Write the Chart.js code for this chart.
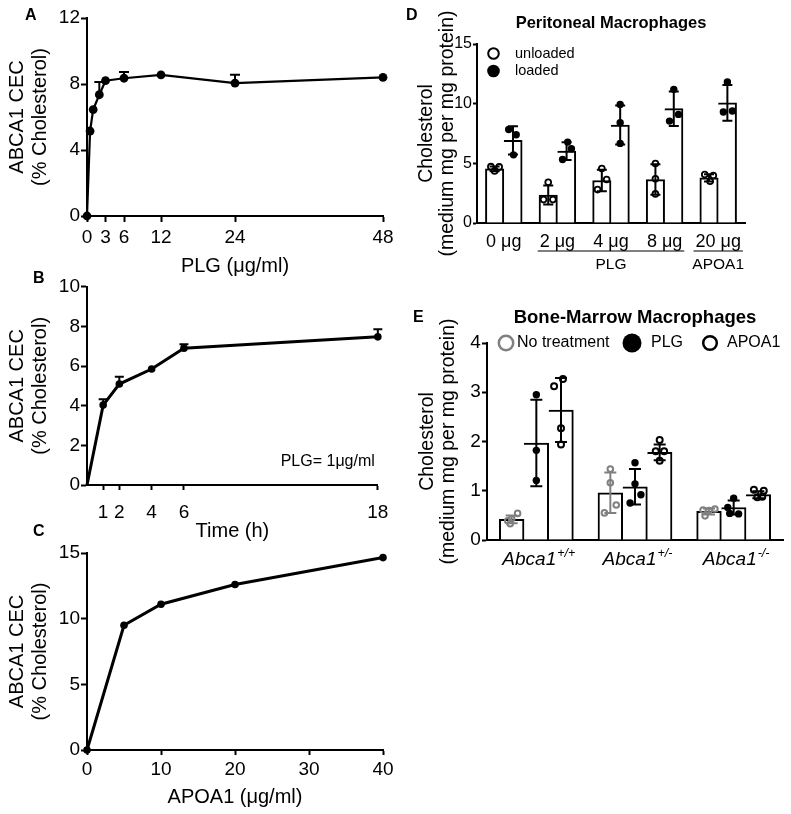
<!DOCTYPE html>
<html lang="en">
<head>
<meta charset="UTF-8">
<title>ABCA1 CEC and cholesterol efflux</title>
<script src="https://cdn.jsdelivr.net/npm/chart.js"></script>
<style>
  body { margin: 0; background: #fff; }
  #fig { position: relative; width: 791px; height: 814px; font-family: "Liberation Sans", Arial, sans-serif; }
  #fig canvas { position: absolute; }
  .lbl { position: absolute; font-weight: bold; font-size: 16px; line-height: 16px; }
</style>
</head>
<body>
<div id="fig">
  <canvas id="chartA" width="400" height="280" style="left:0;top:0"></canvas>
  <canvas id="chartB" width="400" height="278" style="left:0;top:270px"></canvas>
  <canvas id="chartC" width="400" height="274" style="left:0;top:540px"></canvas>
  <canvas id="chartD" width="391" height="295" style="left:400px;top:0"></canvas>
  <canvas id="chartE" width="391" height="285" style="left:400px;top:300px"></canvas>
  <div class="lbl" style="left:25px;top:7px">A</div>
  <div class="lbl" style="left:33px;top:270px">B</div>
  <div class="lbl" style="left:33px;top:523px">C</div>
  <div class="lbl" style="left:406px;top:7px">D</div>
  <div class="lbl" style="left:413px;top:309px">E</div>
</div>
<script>
// A: CEC vs PLG dose
const doseA = [0, 0.5, 1, 2, 3, 6, 12, 24, 48];
const cecA = [0, 5.15, 6.45, 7.35, 8.2, 8.35, 8.55, 8.05, 8.4];
const errA = [0, 0, 0, 0.77, 0, 0.37, 0, 0.51, 0];
const ticksA = [0, 3, 6, 12, 24, 48];

// B: CEC vs time
const timeB = [0, 1, 2, 4, 6, 18];
const cecB = [0, 4.03, 5.09, 5.85, 6.9, 7.47];
const errB = [0, 0.3, 0.37, 0, 0.2, 0.38];
const ticksB = [1, 2, 4, 6, 18];

// C: CEC vs APOA1
const apoC = [0, 5, 10, 20, 40];
const cecC = [0, 9.5, 11.1, 12.6, 14.65];

// D: peritoneal macrophages
const doseD = ['0 μg', '2 μg', '4 μg', '8 μg', '20 μg'];
const seriesD = ['unloaded', 'loaded'];
const unloadedMean = [4.54, 2.35, 3.56, 3.64, 3.78];
const unloadedSD = [0.2, 0.8, 0.9, 1.28, 0.3];
const loadedMean = [6.92, 6.02, 8.21, 9.58, 10.06];
const loadedSD = [1.18, 0.74, 1.64, 1.45, 1.5];
const unloadedPts = [[4.72, 4.36, 4.7], [3.42, 1.96, 1.96], [4.57, 3.64, 2.8], [4.99, 3.7, 2.44], [4.06, 3.98, 3.5]];
const unloadedJit = [[-0.07, 0, 0.085], [0, -0.087, 0.087], [0, 0.09, -0.08], [0, 0, 0], [-0.08, 0.08, 0.02]];
const loadedPts = [[7.84, 7.39, 5.71], [6.78, 6.22, 5.32], [9.94, 8.4, 6.67], [11.2, 8.54, 9.1], [11.82, 9.3, 9.38]];
const loadedJit = [[-0.08, 0.06, 0.01], [0.02, 0.09, -0.075], [0, 0, 0], [0, -0.08, 0.087], [0, -0.075, 0.093]];
const groupLabelsD = ['PLG', 'APOA1'];
const groupFromD = [1, 4];
const groupToD = [3, 4];

// E: bone-marrow macrophages
const geneE = 'Abca1';
const genotypeE = ['+/+', '+/-', '-/-'];
const seriesE = ['No treatment', 'PLG', 'APOA1'];
const ntMean = [0.42, 0.96, 0.58];
const ntSD = [0.08, 0.41, 0.06];
const plgMean = [1.97, 1.08, 0.66];
const plgSD = [0.88, 0.36, 0.14];
const apoMean = [2.64, 1.78, 0.92];
const apoSD = [0.65, 0.16, 0.07];
const ntPts = [[0.39, 0.43, 0.54, 0.33], [1.44, 1.16, 0.71, 0.55], [0.61, 0.6, 0.63, 0.49]];
const ntJit = [[-0.04, 0, 0.06, -0.015], [0, 0, 0.06, -0.06], [-0.06, 0, 0.06, -0.04]];
const plgPts = [[2.95, 1.82, 1.21], [1.57, 1.14, 0.92, 0.75], [0.85, 0.66, 0.54, 0.53]];
const plgJit = [[0, 0, 0], [0, 0, 0.06, -0.05], [0, -0.06, -0.04, 0.05]];
const apoPts = [[3.27, 3.12, 2.27, 1.94], [2.03, 1.8, 1.8, 1.61], [1.02, 1.0, 0.87, 0.88]];
const apoJit = [[0.02, -0.07, 0, 0], [0, -0.04, 0.045, 0], [-0.045, 0.055, -0.01, 0.04]];

const FONT = '"Liberation Sans", Arial, sans-serif';
Chart.defaults.font.family = FONT;
Chart.defaults.color = '#000';
Chart.defaults.animation = false;
Chart.defaults.responsive = false;
Chart.defaults.events = [];
Chart.defaults.plugins.legend.display = false;
Chart.defaults.plugins.tooltip.enabled = false;

function yAxis(o) {
  return {
    min: 0, max: o.max,
    afterFit: s => { s.width = o.width; },
    border: { color: '#000', width: 2 },
    grid: { drawOnChartArea: false, tickLength: o.tickLen, tickWidth: 2, tickColor: '#000' },
    ticks: { stepSize: o.step, padding: o.pad, font: { size: o.size } },
    title: { display: true, text: o.title, font: { size: o.titleSize, lineHeight: o.titleLH }, padding: { top: o.titlePad, bottom: 0 } }
  };
}

function lineX(o) {
  return {
    type: 'linear', min: o.min, max: o.max,
    afterBuildTicks: s => { s.ticks = o.ticks.map(v => ({ value: v })); },
    afterFit: s => { s.height = o.height; },
    border: { color: '#000', width: 2 },
    grid: { drawOnChartArea: false, tickLength: o.tickLen, tickWidth: 2, tickColor: '#000' },
    ticks: { font: { size: 19 }, padding: o.pad, autoSkip: false, maxRotation: 0 },
    title: { display: true, text: o.title, font: { size: 20 }, padding: { top: 0, bottom: o.titlePad } }
  };
}

function upErrors(xs, ys, errs, cap) {
  return {
    id: 'upErrors',
    afterDatasetsDraw(chart) {
      const { ctx, scales: { x, y } } = chart;
      ctx.save();
      ctx.strokeStyle = '#000';
      ctx.lineWidth = 2;
      errs.forEach((e, i) => {
        if (!e) return;
        const px = x.getPixelForValue(xs[i]);
        const y0 = y.getPixelForValue(ys[i]);
        const y1 = y.getPixelForValue(ys[i] + e);
        ctx.beginPath();
        ctx.moveTo(px, y0); ctx.lineTo(px, y1);
        ctx.moveTo(px - cap, y1); ctx.lineTo(px + cap, y1);
        ctx.stroke();
      });
      ctx.restore();
    }
  };
}

function sdErrors(sets, cap) {
  return {
    id: 'sdErrors',
    afterDatasetsDraw(chart) {
      const { ctx } = chart;
      const y = chart.scales.y;
      ctx.save();
      ctx.lineWidth = 2;
      sets.forEach(s => {
        ctx.strokeStyle = s.color;
        chart.getDatasetMeta(s.index).data.forEach((bar, i) => {
          const top = y.getPixelForValue(s.mean[i] + s.sd[i]);
          const bot = y.getPixelForValue(Math.max(0, s.mean[i] - s.sd[i]));
          ctx.beginPath();
          ctx.moveTo(bar.x, top); ctx.lineTo(bar.x, bot);
          ctx.moveTo(bar.x - cap, top); ctx.lineTo(bar.x + cap, top);
          ctx.moveTo(bar.x - cap, bot); ctx.lineTo(bar.x + cap, bot);
          ctx.stroke();
        });
      });
      ctx.restore();
    }
  };
}

function markerLegend(labels, items, size) {
  return {
    id: 'markerLegend',
    afterDraw(chart) {
      const { ctx, chartArea } = chart;
      ctx.save();
      ctx.font = size + 'px ' + FONT;
      ctx.textBaseline = 'middle';
      ctx.textAlign = 'left';
      items.forEach((it, i) => {
        const cx = chartArea.left + it.dx, cy = chartArea.top + it.dy;
        ctx.beginPath();
        ctx.arc(cx, cy, it.r, 0, Math.PI * 2);
        if (it.fill) { ctx.fillStyle = it.fill; ctx.fill(); }
        if (it.stroke) { ctx.strokeStyle = it.stroke; ctx.lineWidth = it.lw; ctx.stroke(); }
        ctx.fillStyle = '#000';
        ctx.fillText(labels[i], chartArea.left + it.tx, cy);
      });
      ctx.restore();
    }
  };
}

// bars and dots share a hidden linear axis: category index + bar slot offset (+ jitter)
function slotOffset(k, nBars, catPct) {
  return (k - (nBars - 1) / 2) * catPct / nBars;
}
function barData(means, k, nBars, catPct) {
  const off = slotOffset(k, nBars, catPct);
  return means.map((m, i) => ({ x: i + off, y: m }));
}
function pointData(pts, jit, k, nBars, catPct) {
  const off = slotOffset(k, nBars, catPct);
  return pts.flatMap((vals, i) => vals.map((v, j) => ({ x: i + off + jit[i][j], y: v })));
}

// ---------- A ----------
new Chart(document.getElementById('chartA'), {
  type: 'scatter',
  data: {
    datasets: [{
      data: doseA.map((x, i) => ({ x, y: cecA[i] })),
      showLine: true, borderColor: '#000', borderWidth: 2.2,
      pointRadius: 4.4, pointBackgroundColor: '#000', pointBorderWidth: 0, clip: false
    }]
  },
  options: {
    layout: { padding: { top: 18, right: 17, left: 0, bottom: 0 } },
    scales: {
      x: lineX({ min: 0, max: 48, ticks: ticksA, tickLen: 6, pad: 4.6, title: 'PLG (μg/ml)', titlePad: 1.3, height: 64 }),
      y: yAxis({ max: 12, step: 4, width: 87, tickLen: 6, pad: 1, size: 19,
        title: ['ABCA1 CEC', '(% Cholesterol)'], titleSize: 20, titleLH: 1.17, titlePad: 5.8 })
    }
  },
  plugins: [upErrors(doseA, cecA, errA, 5)]
});

// ---------- B ----------
new Chart(document.getElementById('chartB'), {
  type: 'scatter',
  data: {
    datasets: [{
      data: timeB.map((x, i) => ({ x, y: cecB[i] })),
      showLine: true, borderColor: '#000', borderWidth: 3,
      pointRadius: c => (c.dataIndex === 0 ? 0 : 3.8), pointBackgroundColor: '#000', pointBorderWidth: 0, clip: false
    }]
  },
  options: {
    layout: { padding: { top: 16.7, right: 17, left: 0, bottom: 0 } },
    scales: {
      x: lineX({ min: 0, max: 18, ticks: ticksB, tickLen: 5, pad: 11.6, title: 'Time (h)', titlePad: 5, height: 63 }),
      y: yAxis({ max: 10, step: 2, width: 87, tickLen: 6, pad: 1, size: 19,
        title: ['ABCA1 CEC', '(% Cholesterol)'], titleSize: 20, titleLH: 1.17, titlePad: 5.8 })
    }
  },
  plugins: [upErrors(timeB, cecB, errB, 4.5), {
    id: 'note',
    afterDraw(chart) {
      const { ctx, chartArea } = chart;
      ctx.save();
      ctx.font = '16px ' + FONT;
      ctx.fillStyle = '#000';
      ctx.textAlign = 'right';
      ctx.textBaseline = 'middle';
      ctx.fillText('PLG= 1μg/ml', chartArea.right - 3, chartArea.bottom - 23);
      ctx.restore();
    }
  }]
});

// ---------- C ----------
new Chart(document.getElementById('chartC'), {
  type: 'scatter',
  data: {
    datasets: [{
      data: apoC.map((x, i) => ({ x, y: cecC[i] })),
      showLine: true, borderColor: '#000', borderWidth: 3,
      pointRadius: 3.8, pointBackgroundColor: '#000', pointBorderWidth: 0, clip: false
    }]
  },
  options: {
    layout: { padding: { top: 13, right: 17, left: 0, bottom: 0 } },
    scales: {
      x: lineX({ min: 0, max: 40, ticks: [0, 10, 20, 30, 40], tickLen: 5, pad: 3.6, title: 'APOA1 (μg/ml)', titlePad: 5, height: 64 }),
      y: yAxis({ max: 15, step: 5, width: 87, tickLen: 6, pad: 1, size: 19,
        title: ['ABCA1 CEC', '(% Cholesterol)'], titleSize: 20, titleLH: 1.17, titlePad: 5.8 })
    }
  }
});

// ---------- D ----------
const catD = 0.685;
const barD = (label, data, left) => ({
  label, data, xAxisID: 'xp', order: 1, grouped: false, barThickness: 18.4,
  backgroundColor: '#fff', borderColor: '#000',
  borderWidth: { top: 2, left: left ? 2 : 0, right: 2, bottom: 0 }, borderSkipped: false
});
new Chart(document.getElementById('chartD'), {
  type: 'bar',
  data: {
    labels: doseD,
    datasets: [
      { type: 'scatter', label: seriesD[0], data: pointData(unloadedPts, unloadedJit, 0, 2, catD), xAxisID: 'xp', order: 0,
        pointRadius: 2.9, pointBorderWidth: 1.8, pointBorderColor: '#000', pointBackgroundColor: 'rgba(0,0,0,0)', clip: false },
      { type: 'scatter', label: seriesD[1], data: pointData(loadedPts, loadedJit, 1, 2, catD), xAxisID: 'xp', order: 0,
        pointRadius: 3.7, pointBorderWidth: 0, pointBackgroundColor: '#000', clip: false },
      barD(seriesD[0], barData(unloadedMean, 0, 2, catD), true),
      barD(seriesD[1], barData(loadedMean, 1, 2, catD), false)
    ]
  },
  options: {
    layout: { padding: { top: 0, right: 46, left: 0, bottom: 0 } },
    plugins: {
      title: { display: true, text: 'Peritoneal Macrophages', fullSize: false,
        font: { size: 16.5, weight: 'bold' }, padding: { top: 14, bottom: 10.2 } }
    },
    scales: {
      x: {
        type: 'category',
        afterFit: s => { s.height = 72; },
        border: { color: '#000', width: 2 },
        grid: { display: false },
        ticks: { font: { size: 18 }, padding: 0, autoSkip: false, maxRotation: 0 }
      },
      xp: { type: 'linear', display: false, offset: false, grid: { offset: false }, min: -0.5, max: doseD.length - 0.5 },
      y: yAxis({ max: 15, step: 5, width: 77, tickLen: 4, pad: 1, size: 16,
        title: ['Cholesterol', '(medium mg per mg protein)'], titleSize: 19.5, titleLH: 1.08, titlePad: 16.5 })
    }
  },
  plugins: [
    sdErrors([
      { index: 2, mean: unloadedMean, sd: unloadedSD, color: '#000' },
      { index: 3, mean: loadedMean, sd: loadedSD, color: '#000' }
    ], 5),
    markerLegend(seriesD, [
      { dx: 16.5, dy: 9.5, r: 5.3, stroke: '#000', lw: 2, tx: 38 },
      { dx: 16.5, dy: 27, r: 6.3, fill: '#000', tx: 38 }
    ], 14.5),
    {
      id: 'groupsD',
      afterDraw(chart) {
        const { ctx, chartArea } = chart;
        const x = chart.scales.x;
        ctx.save();
        ctx.fillStyle = '#000';
        ctx.strokeStyle = '#000';
        ctx.lineWidth = 1;
        groupLabelsD.forEach((g, k) => {
          const a = groupFromD[k], b = groupToD[k];
          ctx.font = '18px ' + FONT;
          const x1 = x.getPixelForValue(a) - ctx.measureText(doseD[a]).width / 2 - 2;
          const x2 = x.getPixelForValue(b) + ctx.measureText(doseD[b]).width / 2 + 2;
          const ly = chartArea.bottom + 28;
          ctx.beginPath();
          ctx.moveTo(x1, ly); ctx.lineTo(x2, ly);
          ctx.stroke();
          ctx.font = '15.5px ' + FONT;
          ctx.textAlign = 'center';
          ctx.textBaseline = 'middle';
          ctx.fillText(g, (x1 + x2) / 2, chartArea.bottom + 42);
        });
        ctx.restore();
      }
    }
  ]
});

// ---------- E ----------
const catE = 0.75;
const grey = '#808080';
const barE = (label, data, left) => ({
  label, data, xAxisID: 'xp', order: 1, grouped: false, barThickness: 24.7,
  backgroundColor: '#fff', borderColor: '#000',
  borderWidth: { top: 2, left: left ? 2 : 0, right: 2, bottom: 0 }, borderSkipped: false
});
new Chart(document.getElementById('chartE'), {
  type: 'bar',
  data: {
    labels: genotypeE,
    datasets: [
      { type: 'scatter', label: seriesE[0], data: pointData(ntPts, ntJit, 0, 3, catE), xAxisID: 'xp', order: 0,
        pointRadius: 2.8, pointBorderWidth: 2, pointBorderColor: grey, pointBackgroundColor: 'rgba(0,0,0,0)', clip: false },
      { type: 'scatter', label: seriesE[1], data: pointData(plgPts, plgJit, 1, 3, catE), xAxisID: 'xp', order: 0,
        pointRadius: 3.7, pointBorderWidth: 0, pointBackgroundColor: '#000', clip: false },
      { type: 'scatter', label: seriesE[2], data: pointData(apoPts, apoJit, 2, 3, catE), xAxisID: 'xp', order: 0,
        pointRadius: 3, pointBorderWidth: 2, pointBorderColor: '#000', pointBackgroundColor: 'rgba(0,0,0,0)', clip: false },
      barE(seriesE[0], barData(ntMean, 0, 3, catE), true),
      barE(seriesE[1], barData(plgMean, 1, 3, catE), false),
      barE(seriesE[2], barData(apoMean, 2, 3, catE), false)
    ]
  },
  options: {
    layout: { padding: { top: 0, right: 8, left: 0, bottom: 0 } },
    plugins: {
      title: { display: true, text: 'Bone-Marrow Macrophages', fullSize: false,
        font: { size: 18.5, weight: 'bold' }, padding: { top: 6.9, bottom: 13.9 } }
    },
    scales: {
      x: {
        type: 'category',
        afterFit: s => { s.height = 45; },
        border: { color: '#000', width: 2 },
        grid: { display: false },
        ticks: { display: false }
      },
      xp: { type: 'linear', display: false, offset: false, grid: { offset: false }, min: -0.5, max: genotypeE.length - 0.5 },
      y: yAxis({ max: 4, step: 1, width: 87, tickLen: 5, pad: 1.3, size: 19,
        title: ['Cholesterol', '(medium mg per mg protein)'], titleSize: 19.5, titleLH: 1.08, titlePad: 17.5 })
    }
  },
  plugins: [
    sdErrors([
      { index: 3, mean: ntMean, sd: ntSD, color: grey },
      { index: 4, mean: plgMean, sd: plgSD, color: '#000' },
      { index: 5, mean: apoMean, sd: apoSD, color: '#000' }
    ], 6),
    markerLegend(seriesE, [
      { dx: 19, dy: 0, r: 7.2, stroke: grey, lw: 2.5, tx: 30 },
      { dx: 145, dy: 0, r: 9.5, fill: '#000', tx: 164 },
      { dx: 223, dy: 0, r: 6.8, stroke: '#000', lw: 2.5, tx: 240 }
    ], 16),
    {
      id: 'genoLabels',
      afterDraw(chart) {
        const { ctx, chartArea } = chart;
        const x = chart.scales.x;
        const base = chartArea.bottom + 25;
        ctx.save();
        ctx.fillStyle = '#000';
        ctx.textAlign = 'left';
        ctx.textBaseline = 'alphabetic';
        genotypeE.forEach((g, i) => {
          ctx.font = 'italic 19px ' + FONT;
          const w1 = ctx.measureText(geneE).width;
          ctx.font = 'italic 12.5px ' + FONT;
          const w2 = ctx.measureText(g).width;
          const x0 = x.getPixelForValue(i) - (w1 + w2) / 2 + 2;
          ctx.font = 'italic 19px ' + FONT;
          ctx.fillText(geneE, x0, base);
          ctx.font = 'italic 12.5px ' + FONT;
          ctx.fillText(g, x0 + w1 + 1, base - 8);
        });
        ctx.restore();
      }
    }
  ]
});
</script>
</body>
</html>
